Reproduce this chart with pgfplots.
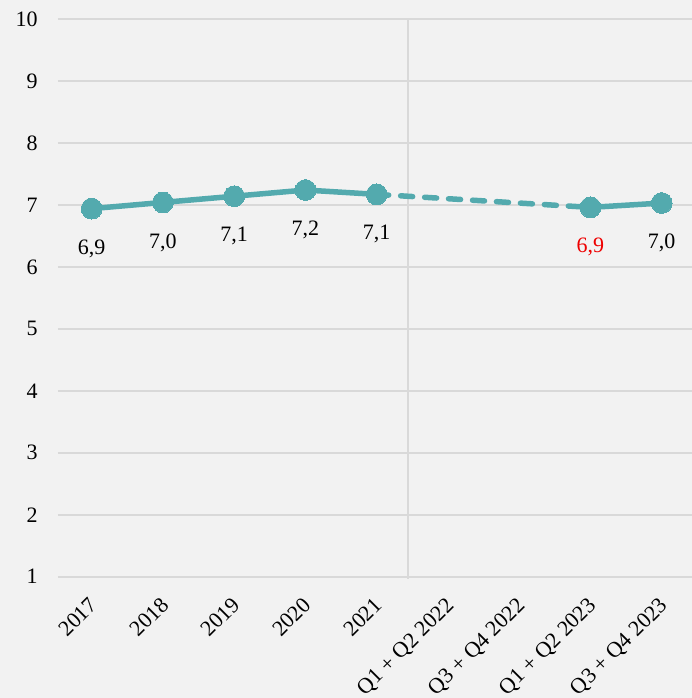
\documentclass[border=0pt]{standalone}
\usepackage{fontspec}
\setmainfont{Liberation Serif}
\usepackage{pgfplots}
\pgfplotsset{compat=1.18}

\definecolor{bg}{HTML}{F2F2F2}
\definecolor{teal}{HTML}{53AAAE}
\definecolor{gridc}{HTML}{D9D9D9}
\definecolor{redlab}{HTML}{EE0000}

\begin{document}
\begin{tikzpicture}
\fill[bg] (-29pt,-60.65pt) rectangle (317pt,288.35pt);
\begin{axis}[
    scale only axis,
    width=317pt, height=278.85pt,
    xmin=-0.473, xmax=8.425,
    ymin=1, ymax=10,
    ytick={1,2,...,10},
    xtick={0,...,8},
    xticklabels={2017,2018,2019,2020,2021,Q1 + Q2 2022,Q3 + Q4 2022,Q1 + Q2 2023,Q3 + Q4 2023},
    axis line style={draw=none},
    tick style={draw=none},
    ymajorgrids=true,
    grid style={gridc, line width=1pt},
    font=\fontsize{11}{13}\selectfont,
    /pgf/number format/assume math mode=true,
    yticklabel style={inner sep=0pt, xshift=-10pt},
    xticklabel style={xshift=-1.75pt, yshift=-9.5pt, rotate=45, anchor=north east, inner sep=0pt},
    clip=false,
]
% vertical separator
\addplot[color=gridc, line width=1pt] coordinates {(4.44,0.97) (4.44,10)};

% dashed link 2021 -> Q1+Q2 2023
\addplot[color=teal, line width=2.75pt, line cap=round, dash pattern=on 6pt off 6pt]
    coordinates {(4,7.17) (7,6.96)};

\addplot[color=teal, line width=2.75pt, mark=*, mark size=5.2pt,
    mark options={fill=teal, draw=teal, line width=0pt},
    nodes near coords, point meta=explicit symbolic,
    every node near coord/.style={anchor=north, inner sep=0pt, yshift=-15.5pt, text=black, font=\fontsize{11}{13}\selectfont}]
    coordinates {(0,6.94)[6,9] (1,7.04)[7,0] (2,7.14)[7,1] (3,7.24)[7,2] (4,7.17)[7,1]};

\addplot[color=teal, line width=2.75pt, mark=*, mark size=5.2pt,
    mark options={fill=teal, draw=teal, line width=0pt},
    nodes near coords, point meta=explicit symbolic,
    every node near coord/.style={anchor=north, inner sep=0pt, yshift=-15.5pt, text=black, font=\fontsize{11}{13}\selectfont}]
    coordinates {(7,6.96)[\textcolor{redlab}{6,9}] (8,7.03)[7,0]};
\end{axis}
\pgfresetboundingbox
\path[use as bounding box] (-29pt,-60.65pt) rectangle (317pt,288.35pt);
\end{tikzpicture}
\end{document}
